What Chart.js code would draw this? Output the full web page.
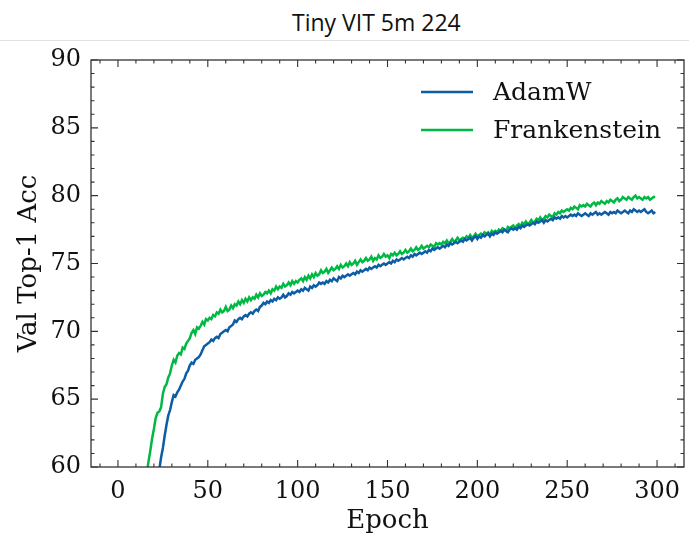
<!DOCTYPE html>
<html>
<head>
<meta charset="utf-8">
<script src="https://cdn.jsdelivr.net/npm/chart.js@4"></script>
<style>
  html, body { margin: 0; padding: 0; background: #fff; }
  #wrap { position: relative; width: 689px; height: 537px; }
  #titulo {
    position: absolute; left: 0; top: 0; width: 689px; height: 40px;
    border-bottom: 1px solid #e2e2e2;
  }
  #titulo span {
    position: absolute; left: 292px; top: 11px; line-height: 23px;
    font-family: "Open Sans", sans-serif; font-size: 23px; color: #111;
    white-space: nowrap;
  }
  #grafico { position: absolute; left: 0; top: 0; }
</style>
</head>
<body>
<div id="wrap">
  <div id="titulo"><span>Tiny VIT 5m 224</span></div>
  <canvas id="grafico" width="689" height="537"></canvas>
</div>
<script>
const seriesNomes = ["AdamW", "Frankenstein"];
const cores = ["#0C5DA5", "#00B945"];

const xTicks = [0, 50, 100, 150, 200, 250, 300];
const yTicks = [60, 65, 70, 75, 80, 85, 90];

// val top-1 por epoca (0..299)
const adamw = [
  6.1, 12.8, 19.5, 25.0, 29.8, 33.7, 37.1, 40.2, 42.9, 45.3,
  46.8, 48.6, 50.2, 51.7, 53.0, 54.2, 55.2, 56.1, 56.9, 57.6,
  58.2, 58.8, 59.3, 59.8, 60.7, 61.4, 62.3, 63.1, 63.8, 64.2,
  64.8, 65.3, 65.2, 65.5, 65.7, 66.0, 66.3, 66.5, 66.9, 67.1,
  67.5, 67.7, 67.6, 67.9, 68.0, 68.1, 68.3, 68.6, 68.9, 69.0,
  69.1, 69.2, 69.4, 69.3, 69.5, 69.6, 69.5, 69.8, 69.9, 70.0,
  70.1, 70.0, 70.3, 70.4, 70.5, 70.8, 70.7, 70.9, 71.0, 70.9,
  71.1, 71.2, 71.1, 71.3, 71.4, 71.3, 71.5, 71.6, 71.5, 71.8,
  71.9, 72.1, 72.0, 72.2, 72.1, 72.3, 72.2, 72.4, 72.3, 72.5,
  72.4, 72.5, 72.7, 72.5, 72.6, 72.8, 72.7, 72.9, 72.8, 72.9,
  73.0, 72.9, 73.1, 73.0, 73.2, 73.1, 73.0, 73.3, 73.2, 73.4,
  73.3, 73.4, 73.6, 73.5, 73.6, 73.5, 73.7, 73.6, 73.8, 73.7,
  73.9, 73.8, 73.7, 74.0, 73.9, 74.1, 74.0, 74.1, 74.2, 74.1,
  74.2, 74.3, 74.2, 74.4, 74.3, 74.5, 74.4, 74.5, 74.6, 74.5,
  74.7, 74.6, 74.7, 74.8, 74.7, 74.9, 74.8, 74.9, 75.0, 74.9,
  75.0, 75.1, 75.0, 75.2, 75.1, 75.3, 75.2, 75.3, 75.4, 75.3,
  75.4, 75.5, 75.4, 75.6, 75.5, 75.7, 75.6, 75.7, 75.8, 75.7,
  75.8, 75.9, 75.8, 76.0, 75.9, 76.1, 76.0, 76.1, 76.2, 76.1,
  76.2, 76.3, 76.2, 76.4, 76.3, 76.5, 76.4, 76.5, 76.6, 76.5,
  76.6, 76.7, 76.6, 76.8, 76.7, 76.8, 76.9, 76.7, 76.9, 77.0,
  76.8, 77.0, 76.9, 77.1, 77.0, 77.1, 77.2, 77.0, 77.2, 77.1,
  77.3, 77.2, 77.3, 77.4, 77.3, 77.5, 77.4, 77.3, 77.5, 77.6,
  77.5, 77.6, 77.5, 77.7, 77.6, 77.8, 77.7, 77.8, 77.9, 77.8,
  77.9, 78.0, 77.9, 78.1, 78.0, 78.1, 78.2, 78.0, 78.2, 78.1,
  78.2, 78.3, 78.2, 78.4, 78.3, 78.4, 78.3, 78.5, 78.4, 78.5,
  78.4, 78.5, 78.6, 78.5, 78.6, 78.5, 78.7, 78.6, 78.5, 78.6,
  78.7, 78.6, 78.5, 78.7, 78.6, 78.7, 78.8, 78.6, 78.7, 78.6,
  78.7, 78.8, 78.7, 78.6, 78.8, 78.7, 78.8, 78.7, 78.9, 78.8,
  78.7, 78.8, 78.9, 78.8, 78.7, 78.9, 78.8, 79.0, 78.9, 78.8,
  78.9, 78.8, 78.9, 79.0, 78.8, 78.7, 78.8, 78.9, 78.7, 78.8
];

const frankenstein = [
  9.5, 17.2, 24.8, 30.1, 34.6, 38.3, 41.5, 44.2, 46.6, 48.7,
  50.6, 52.3, 53.8, 55.2, 56.6, 58.0, 59.5, 60.4, 61.2, 62.1,
  62.8, 63.6, 64.0, 64.1, 64.4, 65.4, 65.9, 66.1, 66.6, 66.9,
  67.5, 67.9, 67.7, 68.2, 68.4, 68.3, 68.8, 68.7, 69.1, 69.3,
  69.5, 69.9, 70.1, 69.8, 70.3, 70.2, 70.4, 70.7, 70.5, 70.9,
  70.8, 71.0, 70.9, 71.2, 71.1, 71.4, 71.3, 71.6, 71.4, 71.5,
  71.8, 71.5, 71.6, 71.9, 71.7, 72.0, 71.9, 72.2, 72.0, 72.3,
  72.1, 72.4, 72.2, 72.5, 72.3, 72.5, 72.4, 72.7, 72.5, 72.8,
  72.6, 72.7, 72.9, 72.8, 73.0, 72.8, 73.1, 73.0, 73.3, 73.1,
  73.3, 73.2, 73.5, 73.3, 73.4, 73.6, 73.4, 73.7, 73.5, 73.7,
  73.6, 73.8, 73.9, 73.7, 74.0, 73.8, 74.1, 73.9, 74.2, 74.0,
  74.3, 74.1, 74.2, 74.5, 74.3, 74.4, 74.6, 74.3, 74.5, 74.7,
  74.5, 74.6, 74.8, 74.6, 74.9, 74.7, 74.8, 75.0, 74.8, 75.1,
  74.9, 75.0, 75.2, 74.9, 75.1, 75.3, 75.1, 75.2, 75.4, 75.2,
  75.3, 75.5, 75.2, 75.4, 75.3, 75.6, 75.4, 75.5, 75.7, 75.5,
  75.6, 75.4, 75.7, 75.6, 75.8, 75.6, 75.7, 75.9, 75.7, 75.8,
  76.0, 75.8, 75.9, 76.1, 75.9, 76.0, 76.2, 76.0, 76.1, 76.3,
  76.1, 76.2, 76.3, 76.2, 76.4, 76.3, 76.2, 76.5, 76.4, 76.5,
  76.4, 76.6, 76.5, 76.7, 76.5, 76.6, 76.8, 76.6, 76.7, 76.9,
  76.7, 76.8, 76.9, 76.8, 77.0, 76.9, 77.1, 76.9, 77.0, 77.2,
  77.0, 77.1, 77.2, 77.1, 77.3, 77.2, 77.3, 77.1, 77.4, 77.3,
  77.4, 77.3, 77.5, 77.4, 77.6, 77.5, 77.4, 77.7, 77.6, 77.7,
  77.8, 77.6, 77.8, 77.9, 77.7, 78.0, 77.9, 78.1, 77.9, 78.0,
  78.2, 78.0, 78.1, 78.3, 78.2, 78.4, 78.2, 78.3, 78.5, 78.4,
  78.6, 78.5, 78.4, 78.7, 78.6, 78.8, 78.7, 78.9, 78.8, 78.9,
  79.0, 78.9, 79.1, 79.0, 79.2, 79.1, 79.0, 79.3, 79.2, 79.3,
  79.2, 79.4, 79.3, 79.2, 79.4, 79.5, 79.3, 79.5, 79.4, 79.6,
  79.5, 79.4, 79.6, 79.5, 79.7, 79.6, 79.5, 79.7, 79.8, 79.6,
  79.7, 79.9, 79.8, 79.7, 79.9, 79.8, 79.7, 79.9, 80.0, 79.8,
  79.9, 79.8, 79.7, 79.9, 79.8, 79.9, 79.7, 79.8, 79.9, 79.9
];

const epocas = adamw.map((_, i) => i);
const fonteSerif = "'DejaVu Serif', serif";

function pontos(arr) {
  return arr.map((v, i) => ({ x: epocas[i], y: v }));
}

// moldura + ticks para dentro nos 4 lados (estilo matplotlib)
const molduraPlugin = {
  id: "moldura",
  afterDatasetsDraw(chart) {
    const { ctx, chartArea: a, scales } = chart;
    ctx.save();
    ctx.strokeStyle = "#333";
    ctx.lineWidth = 1.3;
    ctx.strokeRect(a.left, a.top, a.right - a.left, a.bottom - a.top);
    ctx.lineWidth = 1.1;
    ctx.beginPath();
    for (let v = -10; v <= 310; v += 10) {
      const px = scales.x.getPixelForValue(v);
      const len = xTicks.includes(v) ? 7 : 3.5;
      ctx.moveTo(px, a.bottom); ctx.lineTo(px, a.bottom - len);
      ctx.moveTo(px, a.top); ctx.lineTo(px, a.top + len);
    }
    for (let v = 60; v <= 90; v += 1) {
      const py = scales.y.getPixelForValue(v);
      const len = yTicks.includes(v) ? 7 : 3.5;
      ctx.moveTo(a.left, py); ctx.lineTo(a.left + len, py);
      ctx.moveTo(a.right, py); ctx.lineTo(a.right - len, py);
    }
    ctx.stroke();

    // legenda dentro do grafico
    ctx.font = "25px " + fonteSerif;
    ctx.textBaseline = "middle";
    ctx.fillStyle = "#111";
    chart.data.datasets.forEach((ds, i) => {
      const y = a.top + 32 + i * 38;
      const x0 = a.left + 330;
      ctx.strokeStyle = ds.borderColor;
      ctx.lineWidth = 2.5;
      ctx.beginPath();
      ctx.moveTo(x0, y); ctx.lineTo(x0 + 52, y);
      ctx.stroke();
      ctx.fillText(ds.label, x0 + 72, y + 1);
    });
    ctx.restore();
  }
};

new Chart(document.getElementById("grafico"), {
  type: "line",
  data: {
    datasets: seriesNomes.map((nome, i) => ({
      label: nome,
      data: pontos(i === 0 ? adamw : frankenstein),
      borderColor: cores[i],
      backgroundColor: cores[i],
      borderWidth: 2.5,
      pointRadius: 0,
      tension: 0,
      fill: false
    }))
  },
  options: {
    responsive: false,
    animation: false,
    layout: { padding: { left: 0, right: 5, top: 60, bottom: 0 } },
    plugins: {
      legend: { display: false },
      tooltip: { enabled: false }
    },
    scales: {
      x: {
        type: "linear",
        min: -15,
        max: 315,
        afterBuildTicks: (s) => { s.ticks = xTicks.map(v => ({ value: v })); },
        afterFit: (s) => { s.height = 70; },
        grid: { display: false },
        border: { display: false },
        ticks: { color: "#111", font: { family: fonteSerif, size: 24 }, padding: 2, maxRotation: 0 },
        title: { display: true, text: "Epoch", color: "#111", font: { family: fonteSerif, size: 26 }, padding: { top: 0, bottom: 0 } }
      },
      y: {
        min: 60,
        max: 90,
        afterBuildTicks: (s) => { s.ticks = yTicks.map(v => ({ value: v })); },
        afterFit: (s) => { s.width = 91; },
        grid: { display: false },
        border: { display: false },
        ticks: { color: "#111", font: { family: fonteSerif, size: 24 }, padding: 2 },
        title: { display: true, text: "Val Top-1 Acc", color: "#111", font: { family: fonteSerif, size: 26 }, padding: { top: 14, bottom: 0 } }
      }
    }
  },
  plugins: [molduraPlugin]
});
</script>
</body>
</html>
